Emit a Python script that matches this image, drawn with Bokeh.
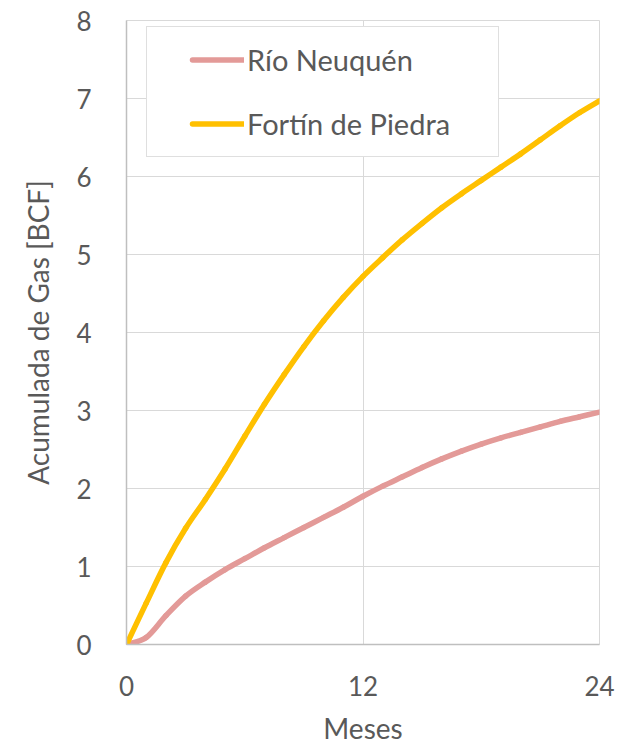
from bokeh.plotting import figure
from bokeh.models import Legend, LegendItem, FixedTicker, Range1d
from bokeh.embed import file_html
from bokeh.resources import INLINE

# Data
months = list(range(0, 25))
rio_neuquen = [0.00, 0.09, 0.37, 0.62, 0.80, 0.96, 1.10, 1.24, 1.37, 1.50, 1.63, 1.76, 1.90,
               2.03, 2.15, 2.27, 2.38, 2.48, 2.57, 2.65, 2.72, 2.79, 2.86, 2.92, 2.98]
fortin_de_piedra = [0.00, 0.53, 1.05, 1.49, 1.86, 2.25, 2.67, 3.08, 3.46, 3.82, 4.15, 4.45, 4.72,
                    4.96, 5.19, 5.40, 5.60, 5.78, 5.95, 6.12, 6.29, 6.47, 6.65, 6.82, 6.97]
x_ticks = [0, 12, 24]
y_ticks = [0, 1, 2, 3, 4, 5, 6, 7, 8]
series_names = ["Río Neuquén", "Fortín de Piedra"]

FONT = "Lato"
TEXT = "#595959"
GRID = "#D9D9D9"
RED = "#E39A98"
YELLOW = "#FFC000"


def smooth_segments(xs, ys):
    """Catmull-Rom smoothing (like a spreadsheet 'smoothed line'), as Bezier segments."""
    n = len(xs)
    out = {k: [] for k in ("x0", "y0", "x1", "y1", "cx0", "cy0", "cx1", "cy1")}
    for i in range(n - 1):
        xm, ym = (xs[i - 1], ys[i - 1]) if i > 0 else (xs[i], ys[i])
        xp, yp = (xs[i + 2], ys[i + 2]) if i + 2 < n else (xs[i + 1], ys[i + 1])
        out["x0"].append(xs[i]); out["y0"].append(ys[i])
        out["x1"].append(xs[i + 1]); out["y1"].append(ys[i + 1])
        out["cx0"].append(xs[i] + (xs[i + 1] - xm) / 6.0)
        out["cy0"].append(ys[i] + (ys[i + 1] - ym) / 6.0)
        out["cx1"].append(xs[i + 1] - (xp - xs[i]) / 6.0)
        out["cy1"].append(ys[i + 1] - (yp - ys[i]) / 6.0)
    return out


p = figure(frame_width=473, frame_height=624, output_backend="svg", toolbar_location=None,
           x_range=Range1d(0, 24), y_range=Range1d(0, 8),
           min_border_left=126, min_border_right=26, min_border_top=20, min_border_bottom=101)

proxies = []
for ys, col in ((rio_neuquen, RED), (fortin_de_piedra, YELLOW)):
    p.bezier(**smooth_segments(months, ys), line_color=col, line_width=5.5, line_cap="round")
    # hidden legend swatch renderer; its dash (with offset) leaves room left of the swatch
    proxies.append(p.line(months, ys, line_color=col, line_width=5.5, line_cap="round",
                          line_dash="52 1000", line_dash_offset=1022, visible=False))

p.xaxis.ticker = FixedTicker(ticks=x_ticks)
p.yaxis.ticker = FixedTicker(ticks=y_ticks)
for ax in (p.xaxis[0], p.yaxis[0]):
    ax.major_tick_line_color = None
    ax.minor_tick_line_color = None
    ax.axis_line_color = "#BFBFBF"
    ax.axis_line_width = 1.5
    ax.major_label_text_font = FONT
    ax.major_label_text_font_size = "26px"
    ax.major_label_text_color = TEXT
    ax.axis_label_text_font = FONT
    ax.axis_label_text_font_size = "28px"
    ax.axis_label_text_font_style = "normal"
    ax.axis_label_text_color = TEXT

p.xaxis.axis_label = "Meses"
p.yaxis.axis_label = "Acumulada de Gas [BCF]"
p.xaxis.major_label_standoff = 25
p.yaxis.major_label_standoff = 29
p.xaxis.axis_label_standoff = 12
p.yaxis.axis_label_standoff = 18

p.xgrid.grid_line_color = GRID
p.ygrid.grid_line_color = GRID
p.outline_line_color = GRID
p.background_fill_color = "white"
p.border_fill_color = "white"

legend = Legend(items=[LegendItem(label=series_names[0], renderers=[proxies[0]]),
                       LegendItem(label=series_names[1], renderers=[proxies[1]])],
                location=(20, 487), orientation="vertical",
                label_text_font=FONT, label_text_font_size="29px", label_text_color=TEXT,
                label_height=35, glyph_height=35, glyph_width=82, label_standoff=3,
                spacing=29, padding=15, label_width=236,
                border_line_color="#BFBFBF", border_line_width=1.5,
                background_fill_color="white", background_fill_alpha=1.0)
p.add_layout(legend, "center")

open("out.html", "w").write(file_html(p, INLINE))
